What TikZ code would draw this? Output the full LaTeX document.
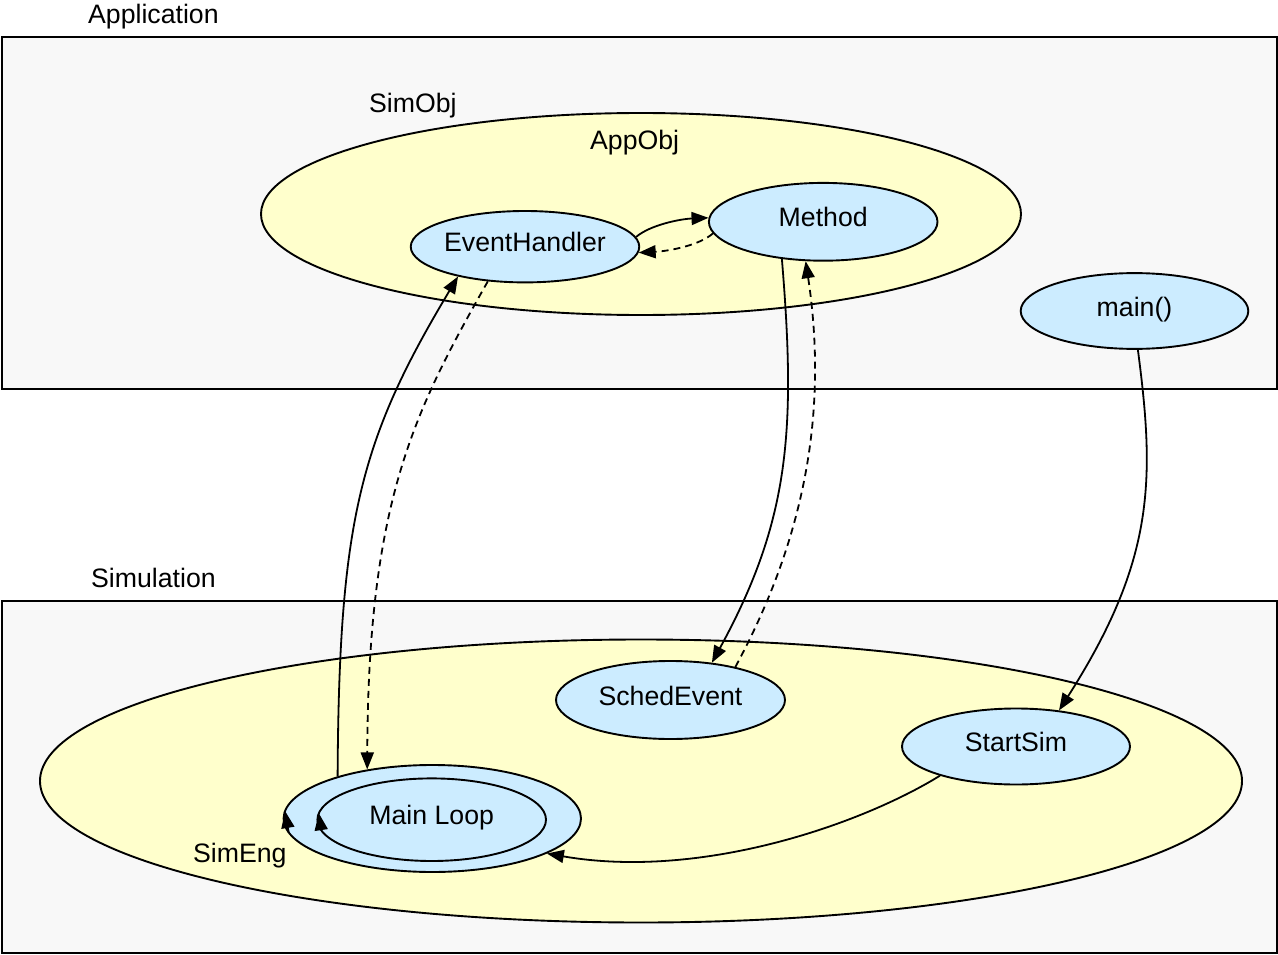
\documentclass[tikz,border=0pt]{standalone}
\usepackage{fontspec}
\setmainfont{Liberation Sans}
\usetikzlibrary{shapes.geometric,arrows.meta}
\definecolor{bggray}{HTML}{F8F8F8}
\definecolor{objyellow}{HTML}{FFFFCC}
\definecolor{objblue}{HTML}{CCECFF}
\begin{document}
\begin{tikzpicture}[x=1pt,y=1pt,
  font=\fontsize{26.67}{32}\selectfont,
  frame/.style={draw, line width=1.2pt, fill=bggray},
  big/.style={ellipse, draw, line width=1.9pt, fill=objyellow, inner sep=0pt},
  obj/.style={ellipse, draw, line width=1.9pt, fill=objblue, inner sep=0pt, text height=19pt, text depth=9pt},
  conn/.style={line width=1.8pt, -{Triangle[length=17pt,width=13pt]}},
  dconn/.style={conn, dash pattern=on 7pt off 5pt},
  lbl/.style={anchor=base west, inner sep=0pt}]
\useasboundingbox (0,0) rectangle (1278,-955);
% containers
\draw[frame] (2,-37) rectangle (1277,-389);
\draw[frame] (2,-601) rectangle (1277,-953);
% big ellipses
\node[big, minimum width=760pt, minimum height=202pt] (appobj) at (641,-214) {};
\node[big, minimum width=1202pt, minimum height=283pt] (simeng) at (641,-781) {};
% objects
\node[obj, minimum width=227pt, minimum height=71.4pt] (eh) at (525,-246.7) {EventHandler};
\node[obj, minimum width=228.6pt, minimum height=77.8pt] (meth) at (823.2,-221.8) {Method};
\node[obj, minimum width=227.6pt, minimum height=75.8pt] (main) at (1134.5,-311) {main()};
\node[obj, minimum width=229pt, minimum height=78pt] (se) at (670.5,-700) {SchedEvent};
\node[obj, minimum width=228pt, minimum height=76pt] (ss) at (1016,-746.5) {StartSim};
\node[obj, minimum width=297.4pt, minimum height=107pt] (mlo) at (432.3,-818.5) {};
\node[obj, minimum width=228.6pt, minimum height=82.6pt] (ml) at (431.7,-819.7) {Main Loop};
% labels
\node[lbl] (lapp) at (88,-24) {Application};
\node[lbl] (lsimobj) at (369,-113) {SimObj};
\node[lbl] (lappobj) at (590,-150) {AppObj};
\node[lbl] (lsim) at (91,-587.5) {Simulation};
\node[lbl] (lsimeng) at (193,-862) {SimEng};
% connectors
\draw[conn] (eh.5) .. controls (650,-225) and (680,-219) .. (meth.178);
\draw[dconn] (meth.186) .. controls (700,-245) and (670,-251) .. (eh.-3);
\draw[conn] (mlo.156) .. controls (339,-520) and (360,-440) .. (eh.204);
\draw[dconn] (eh.223) .. controls (415,-410) and (368,-500) .. (mlo.143);
\draw[conn] (meth.222) .. controls (796,-430) and (790,-520) .. (se.42);
\draw[dconn] (se.27) .. controls (815,-520) and (825,-390) .. (meth.246);
\draw[conn] (main.275) .. controls (1155,-480) and (1155,-560) .. (ss.40);
\draw[conn] (ss.201) .. controls (860,-825) and (700,-880) .. (mlo.343.5);
% self loops (arrowheads on the left edges, pointing up)
\path (mlo.center) ++(195:148.7pt and 53.5pt) coordinate (lo1)
  (mlo.center) ++(172:148.7pt and 53.5pt) coordinate (lo2);
\draw[conn] (lo1) -- (lo2);
\path (ml.center) ++(195:114.3pt and 41.3pt) coordinate (li1)
  (ml.center) ++(171:114.3pt and 41.3pt) coordinate (li2);
\draw[conn] (li1) -- (li2);
\end{tikzpicture}
\end{document}
